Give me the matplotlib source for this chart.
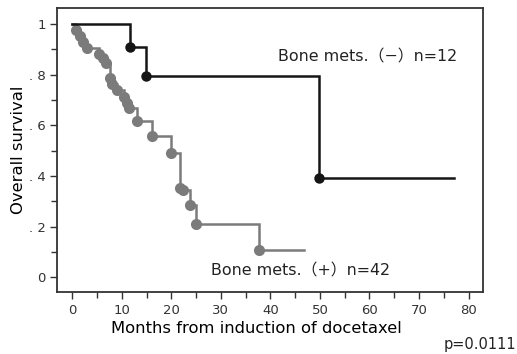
import numpy as np
import matplotlib.pyplot as plt

plt.rcParams['font.family'] = ['DejaVu Sans', 'Noto Sans CJK JP']

# Bone mets. (-) : event times (months) and survival after each drop
neg_times = [11.7, 14.8, 49.8]
neg_surv = [0.909, 0.797, 0.393]
neg_end = 77.0

# Bone mets. (+)
pos_times = [0.7, 1.5, 2.2, 2.9, 5.5, 6.3, 6.9, 7.6, 8.1, 9.0, 10.5, 11.0,
             11.5, 13.0, 16.1, 19.9, 21.8, 22.4, 23.8, 25.0, 37.7]
pos_surv = [0.976, 0.952, 0.929, 0.905, 0.881, 0.865, 0.845, 0.786, 0.762,
            0.738, 0.714, 0.690, 0.667, 0.617, 0.560, 0.490, 0.352, 0.345,
            0.287, 0.212, 0.106]
pos_end = 46.7

y_ticks = [0, 0.2, 0.4, 0.6, 0.8, 1.0]
y_labels = ['0', '. 2', '. 4', '. 6', '. 8', '1']
x_ticks = np.arange(0, 81, 10)


def step_xy(times, surv, end):
    x = [0]
    y = [1.0]
    for t, s in zip(times, surv):
        x += [t, t]
        y += [y[-1], s]
    x.append(end)
    y.append(y[-1])
    return x, y


fig = plt.figure(figsize=(5.17, 3.54), dpi=100)
ax = fig.add_axes([0.111, 0.176, 0.824, 0.8])

gray = '#7b7b7b'
black = '#151515'

x, y = step_xy(pos_times, pos_surv, pos_end)
ax.plot(x, y, color=gray, lw=1.8, solid_joinstyle='miter')
ax.plot(pos_times, pos_surv, 'o', color=gray, ms=8, mec='none')

x, y = step_xy(neg_times, neg_surv, neg_end)
ax.plot(x, y, color=black, lw=1.8, solid_joinstyle='miter')
ax.plot(neg_times, neg_surv, 'o', color=black, ms=7.5, mec='none')

ax.set_xlim(-3.0, 83.0)
ax.set_ylim(-0.057, 1.062)
ax.set_yticks(y_ticks)
ax.set_yticklabels(y_labels)
ax.set_yticks(np.arange(0.1, 1.0, 0.2), minor=True)
ax.set_xticks(x_ticks)
ax.set_xticks(np.arange(5, 80, 10), minor=True)
ax.tick_params(which='both', direction='out', color='#333333', width=1.0,
               labelsize=9.5, labelcolor='#333333')
ax.tick_params(which='major', length=5)
ax.tick_params(which='minor', length=4)
for sp in ax.spines.values():
    sp.set_linewidth(1.3)
    sp.set_color('#333333')

ax.set_xlabel('Months from induction of docetaxel', fontsize=11.8)
ax.xaxis.set_label_coords(0.466, -0.105)
ax.set_ylabel('Overall survival', fontsize=11.8, labelpad=2)

ax.text(41.6, 0.872, 'Bone mets.（−）n=12', fontsize=11.4, va='center', color='#222222')
ax.text(28.0, 0.025, 'Bone mets.（+）n=42', fontsize=11.4, va='center', color='#222222')
fig.text(0.999, 0.005, 'p=0.0111', ha='right', va='bottom', fontsize=10.5, color='#222222')

fig.savefig('out.png', dpi=100)
